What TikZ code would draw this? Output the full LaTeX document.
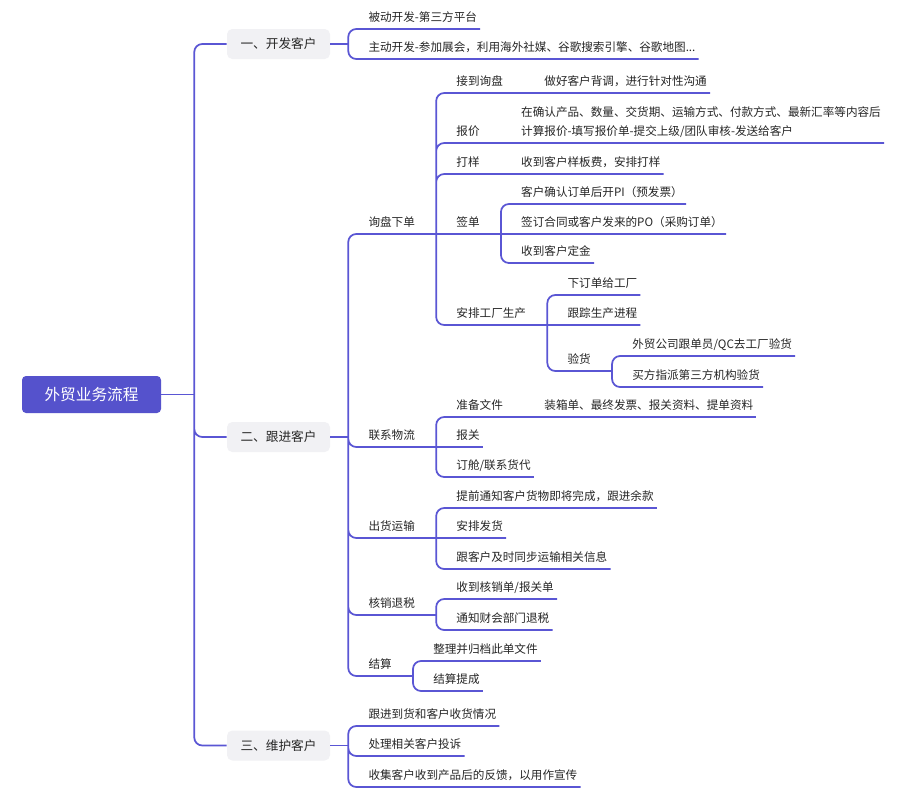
\documentclass[tikz,border=0pt]{standalone}
\usepackage{fontspec}
\setmainfont{Noto Sans CJK SC}
\usepackage{tikz}
\usetikzlibrary{positioning, calc}
\definecolor{mainblue}{HTML}{5552CC}
\definecolor{linkblue}{HTML}{5A56D4}
\definecolor{boxgray}{HTML}{F1F1F4}
\definecolor{ink}{HTML}{262626}

\begin{document}
\begin{tikzpicture}[x=0.75pt, y=-0.75pt,
    root/.style={fill=mainblue, text=white, rounded corners=3pt, minimum width=104.25pt, minimum height=27.75pt, font=\fontsize{11.75}{14}\selectfont},
    part/.style={fill=boxgray, text=ink, rounded corners=4pt, minimum width=77.25pt, minimum height=22.5pt, font=\fontsize{9.5}{12}\selectfont},
    topic/.style={anchor=south west, xshift=15pt, inner sep=0pt, text depth=5.7pt, align=left, text=ink, font=\fontsize{8.7}{14.25}\selectfont},
    branch/.style={draw=linkblue, line width=1.3pt, rounded corners=6pt}]
  \useasboundingbox[fill=white] (0,0) rectangle (913,800);

  % root and the three parts
  \node[root] (root) at (91.5,394.5) {外贸业务流程};
  \node[part] (yi)  at (278.5,44)    {一、开发客户};
  \node[part] (er)  at (278.5,437)   {二、跟进客户};
  \node[part] (san) at (278.5,745.5) {三、维护客户};

  \draw[branch] (root.east) -- ++(24.75pt,0) coordinate (root-f);
  \draw[branch] (root-f) |- (yi.west) (root-f) |- (er.west) (root-f) |- (san.west);
  \draw[branch] (yi.east) -- ++(13.5pt,0) coordinate (yi-f);
  \draw[branch] (er.east) -- ++(13.5pt,0) coordinate (er-f);
  \draw[branch] (san.east) -- ++(13.5pt,0) coordinate (san-f);

  % 一
  \node[topic] (bdkf) at (yi-f |- 0,29) {被动开发-第三方平台};
  \node[topic] (zdkf) at (yi-f |- 0,59) {主动开发-参加展会，利用海外社媒、谷歌搜索引擎、谷歌地图...};
  \draw[branch]
    (yi-f) |- (bdkf.south west) -- ([xshift=2.25pt]bdkf.south east)
    (yi-f) |- (zdkf.south west) -- ([xshift=2.25pt]zdkf.south east);

  % 二
  \node[topic] (xpxd)  at (er-f |- 0,234) {询盘下单};
  \node[topic] (lxwl)  at (er-f |- 0,447) {联系物流};
  \node[topic] (chys)  at (er-f |- 0,538) {出货运输};
  \node[topic] (hxts)  at (er-f |- 0,615) {核销退税};
  \node[topic] (jsuan) at (er-f |- 0,676) {结算};
  \draw[branch]
    (er-f) |- (xpxd.south west) -- ([xshift=15.75pt]xpxd.south east) coordinate (xpxd-f)
    (er-f) |- (lxwl.south west) -- ([xshift=15.75pt]lxwl.south east) coordinate (lxwl-f)
    (er-f) |- (chys.south west) -- ([xshift=15.75pt]chys.south east) coordinate (chys-f)
    (er-f) |- (hxts.south west) -- ([xshift=15.75pt]hxts.south east) coordinate (hxts-f)
    (er-f) |- (jsuan.south west) -- ([xshift=15.75pt]jsuan.south east) coordinate (jsuan-f);

  % 询盘下单
  \node[topic] (jddp) at (xpxd-f |- 0,93)  {接到询盘};
  \node[topic] (bj)   at (xpxd-f |- 0,143) {报价};
  \node[topic] (dy)   at (xpxd-f |- 0,174) {打样};
  \node[topic] (qd)   at (xpxd-f) {签单};
  \node[topic] (apsc) at (xpxd-f |- 0,325) {安排工厂生产};
  \draw[branch]
    (xpxd-f) |- (jddp.south west) -- ([xshift=15.75pt]jddp.south east) coordinate (jddp-f)
    (xpxd-f) |- (bj.south west) -- ([xshift=15.75pt]bj.south east) coordinate (bj-f)
    (xpxd-f) |- (dy.south west) -- ([xshift=15.75pt]dy.south east) coordinate (dy-f)
    (xpxd-f) -- (qd.south west) -- ([xshift=15.75pt]qd.south east) coordinate (qd-f)
    (xpxd-f) |- (apsc.south west) -- ([xshift=15.75pt]apsc.south east) coordinate (apsc-f);

  \node[topic] (bd)   at (jddp-f) {做好客户背调，进行针对性沟通};
  \node[topic] (bjnr) at (bj-f) {在确认产品、数量、交货期、运输方式、付款方式、最新汇率等内容后\\计算报价-填写报价单-提交上级/团队审核-发送给客户};
  \node[topic] (ybf)  at (dy-f) {收到客户样板费，安排打样};
  \node[topic] (kpi)  at (qd-f |- 0,204) {客户确认订单后开PI（预发票）};
  \node[topic] (qht)  at (qd-f) {签订合同或客户发来的PO（采购订单）};
  \node[topic] (dj)   at (qd-f |- 0,263) {收到客户定金};
  \node[topic] (xdd)  at (apsc-f |- 0,295) {下订单给工厂};
  \node[topic] (gzsc) at (apsc-f) {跟踪生产进程};
  \node[topic] (yh)   at (apsc-f |- 0,371) {验货};
  \draw[branch]
    (jddp-f) -- ([xshift=2.25pt]bd.south east)
    (bj-f) -- ([xshift=2.25pt]bjnr.south east)
    (dy-f) -- ([xshift=2.25pt]ybf.south east)
    (qd-f) |- (kpi.south west) -- ([xshift=2.25pt]kpi.south east)
    (qd-f) -- ([xshift=2.25pt]qht.south east)
    (qd-f) |- (dj.south west) -- ([xshift=2.25pt]dj.south east)
    (apsc-f) |- (xdd.south west) -- ([xshift=2.25pt]xdd.south east)
    (apsc-f) -- ([xshift=2.25pt]gzsc.south east)
    (apsc-f) |- (yh.south west) -- ([xshift=15.75pt]yh.south east) coordinate (yh-f);

  \node[topic] (gdy) at (yh-f |- 0,356) {外贸公司跟单员/QC去工厂验货};
  \node[topic] (dsf) at (yh-f |- 0,387) {买方指派第三方机构验货};
  \draw[branch]
    (yh-f) |- (gdy.south west) -- ([xshift=2.25pt]gdy.south east)
    (yh-f) |- (dsf.south west) -- ([xshift=2.25pt]dsf.south east);

  % 联系物流
  \node[topic] (zbwj) at (lxwl-f |- 0,417) {准备文件};
  \node[topic] (bgu)  at (lxwl-f) {报关};
  \node[topic] (dc)   at (lxwl-f |- 0,477) {订舱/联系货代};
  \draw[branch]
    (lxwl-f) |- (zbwj.south west) -- ([xshift=15.75pt]zbwj.south east) coordinate (zbwj-f)
    (lxwl-f) -- ([xshift=2.25pt]bgu.south east)
    (lxwl-f) |- (dc.south west) -- ([xshift=2.25pt]dc.south east);
  \node[topic] (zxd) at (zbwj-f) {装箱单、最终发票、报关资料、提单资料};
  \draw[branch] (zbwj-f) -- ([xshift=2.25pt]zxd.south east);

  % 出货运输
  \node[topic] (tqtz) at (chys-f |- 0,508) {提前通知客户货物即将完成，跟进余款};
  \node[topic] (apfh) at (chys-f) {安排发货};
  \node[topic] (tbxx) at (chys-f |- 0,569) {跟客户及时同步运输相关信息};
  \draw[branch]
    (chys-f) |- (tqtz.south west) -- ([xshift=2.25pt]tqtz.south east)
    (chys-f) -- ([xshift=2.25pt]apfh.south east)
    (chys-f) |- (tbxx.south west) -- ([xshift=2.25pt]tbxx.south east);

  % 核销退税
  \node[topic] (hxd)  at (hxts-f |- 0,599) {收到核销单/报关单};
  \node[topic] (tzts) at (hxts-f |- 0,630) {通知财会部门退税};
  \draw[branch]
    (hxts-f) |- (hxd.south west) -- ([xshift=2.25pt]hxd.south east)
    (hxts-f) |- (tzts.south west) -- ([xshift=2.25pt]tzts.south east);

  % 结算
  \node[topic] (gd) at (jsuan-f |- 0,661) {整理并归档此单文件};
  \node[topic] (tc) at (jsuan-f |- 0,691) {结算提成};
  \draw[branch]
    (jsuan-f) |- (gd.south west) -- ([xshift=2.25pt]gd.south east)
    (jsuan-f) |- (tc.south west) -- ([xshift=2.25pt]tc.south east);

  % 三
  \node[topic] (shqk) at (san-f |- 0,726) {跟进到货和客户收货情况};
  \node[topic] (ts)   at (san-f |- 0,756) {处理相关客户投诉};
  \node[topic] (fk)   at (san-f |- 0,787) {收集客户收到产品后的反馈，以用作宣传};
  \draw[branch]
    (san-f) |- (shqk.south west) -- ([xshift=2.25pt]shqk.south east)
    (san-f) |- (ts.south west) -- ([xshift=2.25pt]ts.south east)
    (san-f) |- (fk.south west) -- ([xshift=2.25pt]fk.south east);
\end{tikzpicture}
\end{document}
